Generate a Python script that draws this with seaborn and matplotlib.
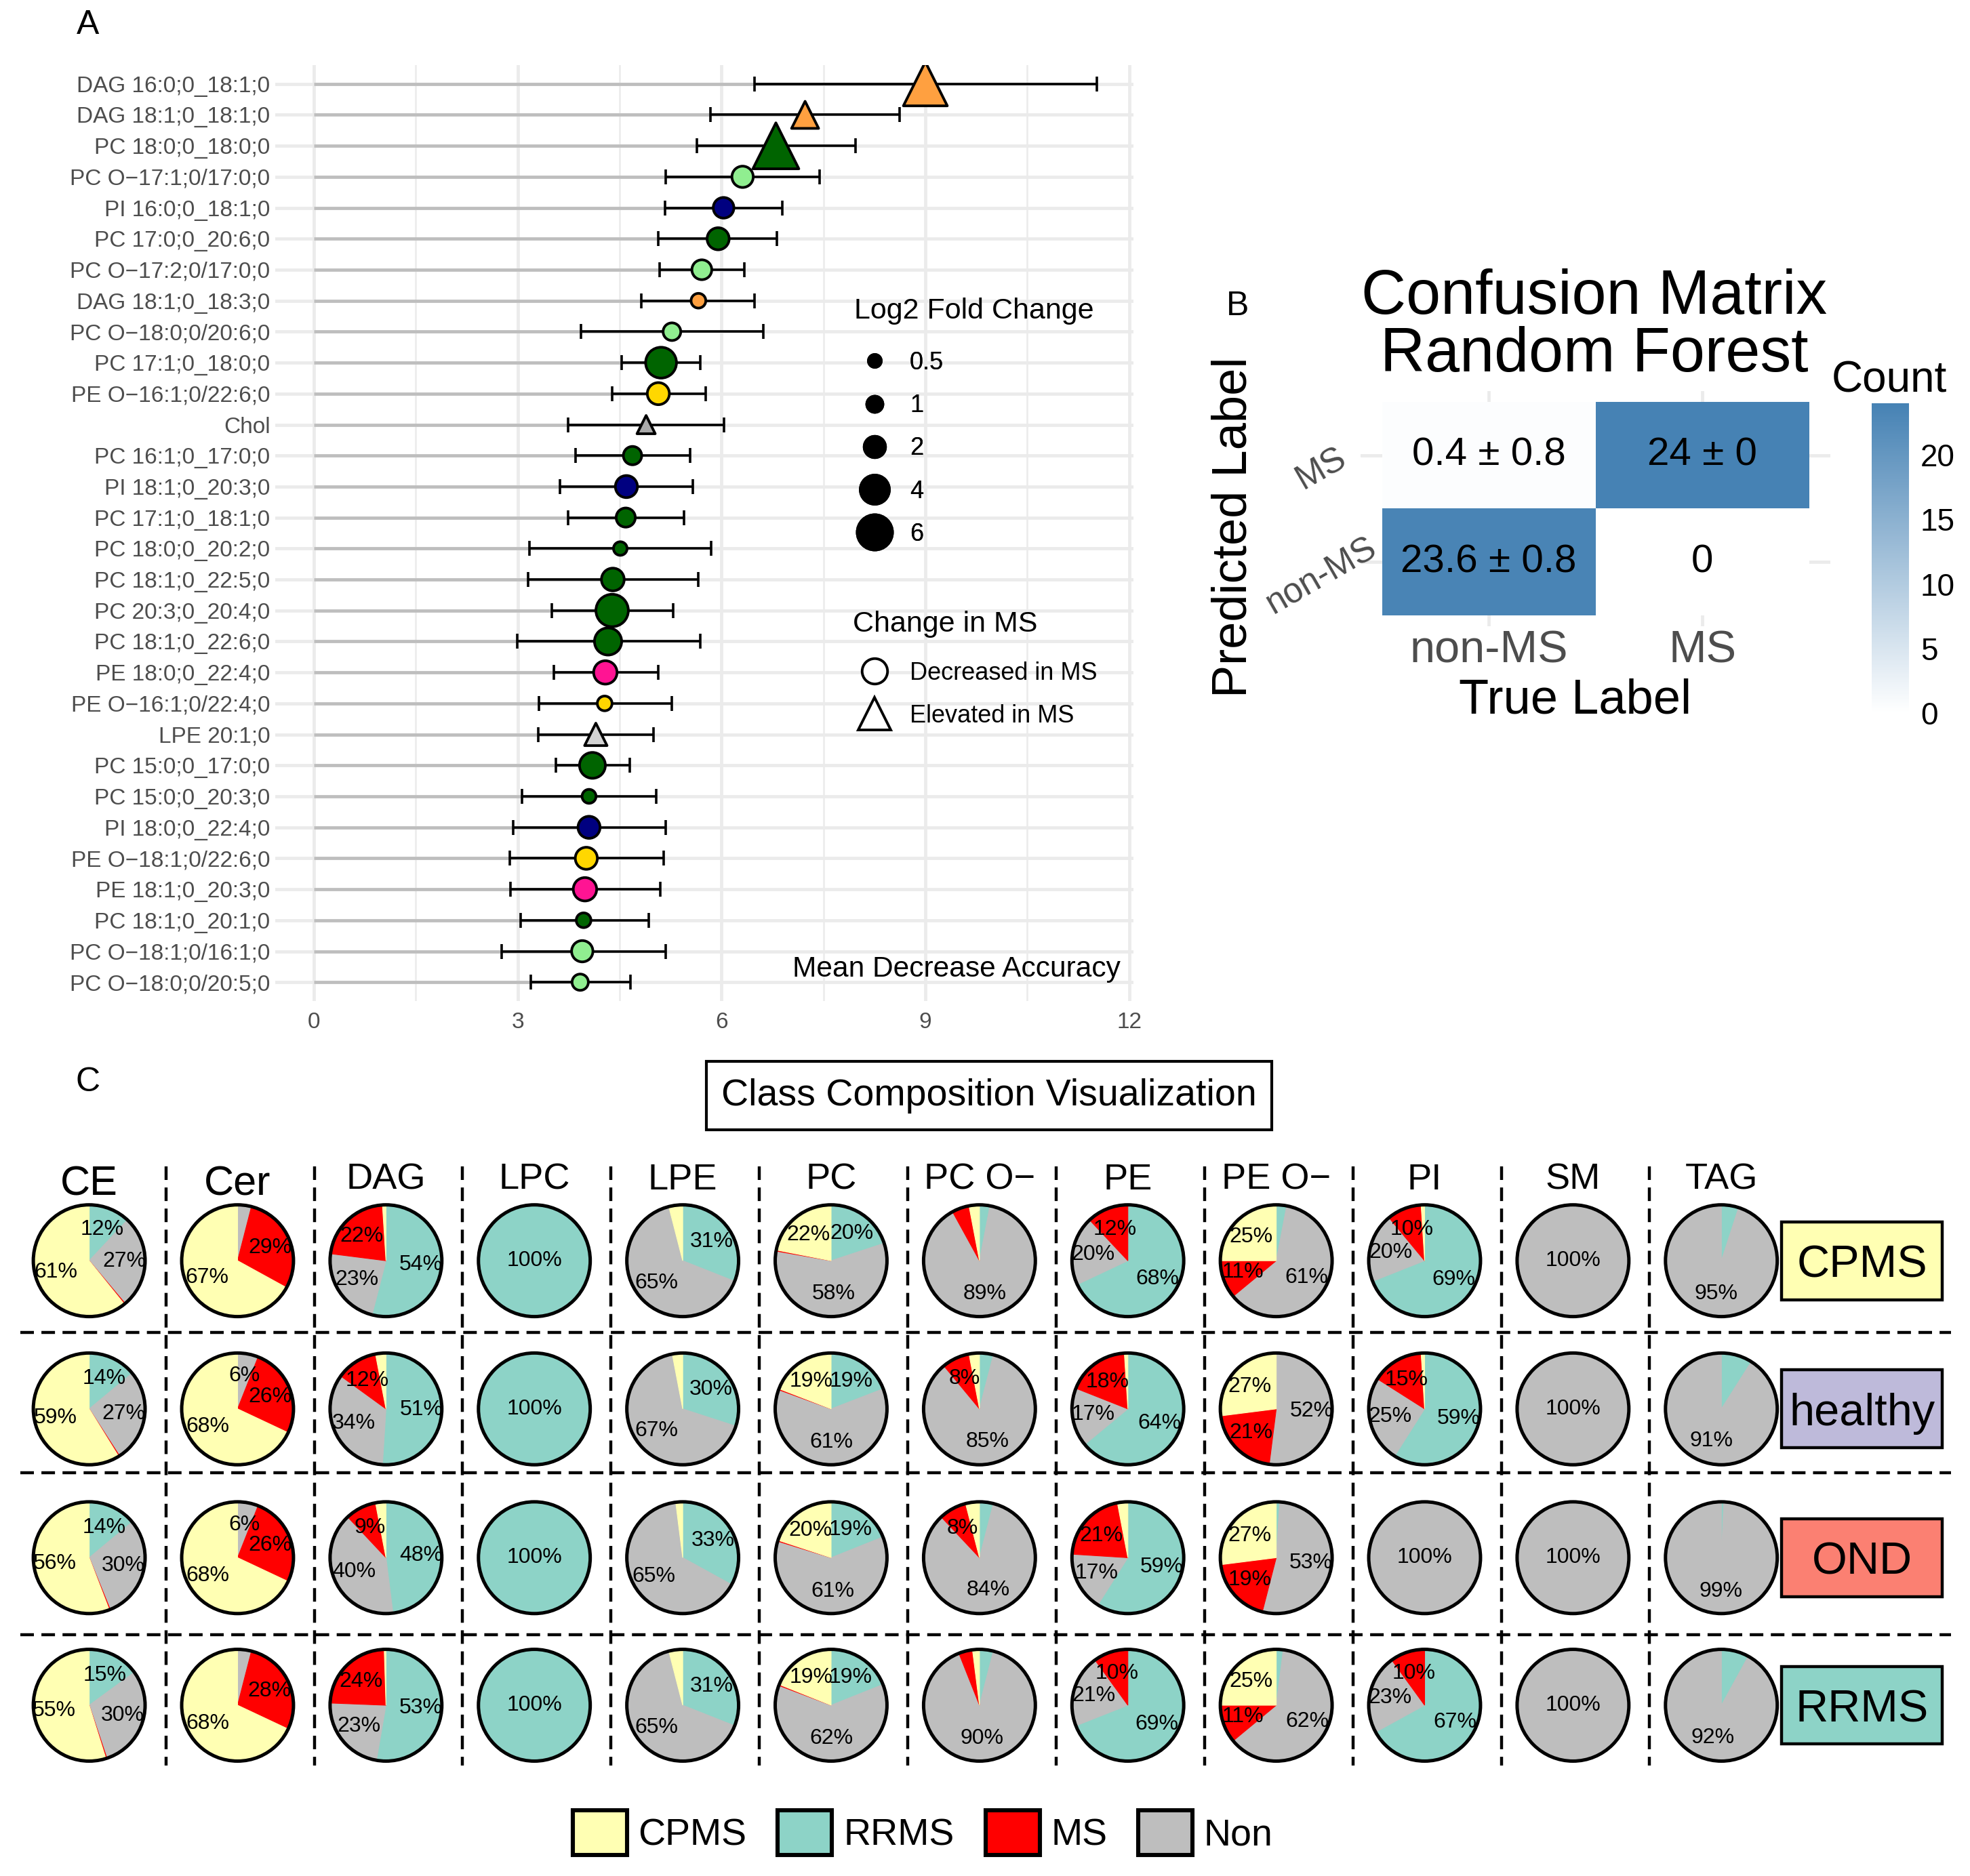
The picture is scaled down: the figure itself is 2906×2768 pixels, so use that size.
import numpy as np
import pandas as pd
import matplotlib
matplotlib.use('Agg')
import matplotlib.pyplot as plt
import matplotlib.transforms as mtransforms
import seaborn as sns
from matplotlib.lines import Line2D
from matplotlib.patches import Patch, Rectangle, Circle
from matplotlib.colors import LinearSegmentedColormap

sns.set_theme(style='white')
plt.rcParams['font.family'] = ['Liberation Sans', 'DejaVu Sans']
plt.rcParams.update({'text.color': 'black', 'axes.labelcolor': 'black',
                     'xtick.color': 'black', 'ytick.color': 'black'})

# ---------------- data: panel A (random forest importance) ----------------
lipids = ['DAG 16:0;0_18:1;0', 'DAG 18:1;0_18:1;0', 'PC 18:0;0_18:0;0',
          'PC O\u221217:1;0/17:0;0', 'PI 16:0;0_18:1;0', 'PC 17:0;0_20:6;0',
          'PC O\u221217:2;0/17:0;0', 'DAG 18:1;0_18:3;0', 'PC O\u221218:0;0/20:6;0',
          'PC 17:1;0_18:0;0', 'PE O\u221216:1;0/22:6;0', 'Chol',
          'PC 16:1;0_17:0;0', 'PI 18:1;0_20:3;0', 'PC 17:1;0_18:1;0',
          'PC 18:0;0_20:2;0', 'PC 18:1;0_22:5;0', 'PC 20:3;0_20:4;0',
          'PC 18:1;0_22:6;0', 'PE 18:0;0_22:4;0', 'PE O\u221216:1;0/22:4;0',
          'LPE 20:1;0', 'PC 15:0;0_17:0;0', 'PC 15:0;0_20:3;0',
          'PI 18:0;0_22:4;0', 'PE O\u221218:1;0/22:6;0', 'PE 18:1;0_20:3;0',
          'PC 18:1;0_20:1;0', 'PC O\u221218:1;0/16:1;0', 'PC O\u221218:0;0/20:5;0']
mda = [9.00, 7.23, 6.80, 6.31, 6.03, 5.95, 5.71, 5.66, 5.27, 5.11, 5.07, 4.89,
       4.69, 4.60, 4.59, 4.51, 4.40, 4.39, 4.33, 4.29, 4.28, 4.15, 4.10, 4.05,
       4.05, 4.01, 3.99, 3.97, 3.95, 3.92]
mda_lo = [6.49, 5.84, 5.64, 5.18, 5.17, 5.07, 5.09, 4.82, 3.93, 4.53, 4.39, 3.74,
          3.85, 3.62, 3.74, 3.17, 3.15, 3.50, 2.99, 3.53, 3.31, 3.30, 3.56, 3.06,
          2.93, 2.88, 2.89, 3.04, 2.76, 3.19]
mda_hi = [11.52, 8.62, 7.97, 7.44, 6.89, 6.81, 6.34, 6.49, 6.62, 5.69, 5.77, 6.04,
          5.54, 5.58, 5.45, 5.85, 5.66, 5.29, 5.69, 5.07, 5.27, 5.00, 4.65, 5.04,
          5.18, 5.15, 5.10, 4.93, 5.18, 4.66]
log2fc = [4.9, 1.6, 5.4, 1.84, 1.7, 2.0, 1.54, 0.66, 1.13, 4.3, 2.0, 0.1,
          1.25, 2.0, 1.4, 0.45, 2.15, 4.8, 3.25, 2.3, 0.66, 0.97, 2.9, 0.55,
          2.0, 2.0, 2.3, 0.66, 1.84, 0.9]
lipid_class = ['DAG', 'DAG', 'PC', 'PC O-', 'PI', 'PC', 'PC O-', 'DAG', 'PC O-',
               'PC', 'PE O-', 'Chol', 'PC', 'PI', 'PC', 'PC', 'PC', 'PC', 'PC',
               'PE', 'PE O-', 'LPE', 'PC', 'PC', 'PI', 'PE O-', 'PE', 'PC',
               'PC O-', 'PC O-']
change = ['Elevated', 'Elevated', 'Elevated'] + ['Decreased'] * 8 + ['Elevated'] + \
         ['Decreased'] * 9 + ['Elevated'] + ['Decreased'] * 8
class_colors = {'DAG': '#FFA040', 'PC': '#006400', 'PC O-': '#90EE90',
                'PI': '#000080', 'PE': '#FF1493', 'PE O-': '#FFD700',
                'Chol': '#A9A9A9', 'LPE': '#D3D3D3'}
size_levels = [0.5, 1, 2, 4, 6]

# ---------------- data: panel B (confusion matrix) ----------------
pred_labels = ['MS', 'non-MS']
true_labels = ['non-MS', 'MS']
cm_mean = [[0.4, 24.0], [23.6, 0.0]]
cm_text = [['0.4 \u00b1 0.8', '24 \u00b1 0'], ['23.6 \u00b1 0.8', '0']]

# ---------------- data: panel C (class composition) ----------------
classes = ['CE', 'Cer', 'DAG', 'LPC', 'LPE', 'PC', 'PC O\u2212', 'PE', 'PE O\u2212',
           'PI', 'SM', 'TAG']
label_min = [5, 5, 5, 5, 5, 5, 5, 5, 5, 5, 5, 10]   # smallest % that gets a label
segments = ['RRMS', 'Non', 'MS', 'CPMS']     # clockwise from 12 o'clock
groups = ['CPMS', 'healthy', 'OND', 'RRMS']
# each entry: [RRMS, Non, MS, CPMS] in %
comp_cpms = [[12, 27, 0.3, 61], [0, 4, 29, 67], [54, 23, 22, 1], [100, 0, 0, 0],
             [31, 65, 0, 4], [20, 58, 0.3, 22], [3, 89, 5, 3], [68, 20, 12, 0],
             [3, 61, 11, 25], [69, 20, 10, 1], [0, 100, 0, 0], [5, 95, 0, 0]]
comp_healthy = [[14, 27, 0.3, 59], [0, 6, 26, 68], [51, 34, 12, 3], [100, 0, 0, 0],
                [30, 67, 0, 3], [19, 61, 0.3, 19], [4, 85, 8, 3], [64, 17, 18, 1],
                [0, 52, 21, 27], [59, 25, 15, 1], [0, 100, 0, 0], [9, 91, 0, 0]]
comp_ond = [[14, 30, 0.3, 56], [0, 6, 26, 68], [48, 40, 9, 3], [100, 0, 0, 0],
            [33, 65, 0, 2], [19, 61, 0.3, 20], [4, 84, 8, 4], [59, 17, 21, 3],
            [1, 53, 19, 27], [0, 100, 0, 0], [0, 100, 0, 0], [0.7, 99, 0, 0]]
comp_rrms = [[15, 30, 0.3, 55], [0, 4, 28, 68], [53, 23, 24, 0.5], [100, 0, 0, 0],
             [31, 65, 0, 4], [19, 62, 0.3, 19], [4, 90, 4, 2], [69, 21, 10, 0],
             [2, 62, 11, 25], [67, 23, 10, 0], [0, 100, 0, 0], [8, 92, 0, 0]]
compositions = [comp_cpms, comp_healthy, comp_ond, comp_rrms]
seg_colors = {'RRMS': '#8DD3C7', 'Non': '#BEBEBE', 'MS': '#FF0000', 'CPMS': '#FFFFB3'}
group_colors = {'CPMS': '#FFFFB3', 'healthy': '#BEBADA', 'OND': '#FB8072',
                'RRMS': '#8DD3C7'}

# ---------------- figure ----------------
fig = plt.figure(figsize=(14.53, 13.84), dpi=200)
W, H = 1568, 1494
PX = 1.853 / 200   # one layout pixel in inches


def rect(x0, y0, x1, y1):
    return [x0 / W, 1 - y1 / H, (x1 - x0) / W, (y1 - y0) / H]


bg = fig.add_axes([0, 0, 1, 1])
bg.set_xlim(0, W)
bg.set_ylim(H, 0)
bg.axis('off')

bg.text(70, 20, 'A', fontsize=18, ha='center', va='center')
bg.text(985, 244, 'B', fontsize=18, ha='center', va='center')
bg.text(70, 862, 'C', fontsize=18, ha='center', va='center')

# ---- A: lollipop with error bars ----
df_a = pd.DataFrame({'lipid': lipids, 'y': np.arange(len(lipids)), 'mda': mda,
                     'lo': mda_lo, 'hi': mda_hi, 'fc': log2fc,
                     'cls': lipid_class, 'dir': change})
ax = fig.add_axes(rect(219, 52, 902, 797))
ax.set_facecolor('none')
ax.set_xlim(-0.57, 12.06)
ax.set_ylim(len(lipids) - 0.4, -0.6)
ax.set_xticks([0, 3, 6, 9, 12])
ax.set_xticks([1.5, 4.5, 7.5, 10.5], minor=True)
ax.set_yticks(df_a['y'])
ax.set_yticklabels(lipids)
ax.grid(which='major', color='#EBEBEB', lw=1.7)
ax.grid(which='minor', axis='x', color='#EBEBEB', lw=0.9)
ax.set_axisbelow(True)
for s in ax.spines.values():
    s.set_visible(False)
ax.tick_params(axis='both', which='both', length=0, labelsize=12, labelcolor='#4D4D4D')
ax.tick_params(axis='y', pad=2.7)
ax.tick_params(axis='x', pad=6)

ax.hlines(df_a['y'], 0, df_a['mda'], color='#BEBEBE', lw=1.7, zorder=1)
ax.errorbar(df_a['mda'], df_a['y'],
            xerr=[df_a['mda'] - df_a['lo'], df_a['hi'] - df_a['mda']],
            fmt='none', ecolor='black', elinewidth=1.3, capsize=4, capthick=1.3,
            zorder=2)
sns.scatterplot(data=df_a[df_a['dir'] == 'Decreased'], x='mda', y='y', hue='cls',
                palette=class_colors, size='fc', sizes=(52, 365), size_norm=(0.5, 6),
                marker='o', edgecolor='black', linewidth=1.4, legend=False,
                ax=ax, zorder=3)
sns.scatterplot(data=df_a[df_a['dir'] == 'Elevated'], x='mda', y='y', hue='cls',
                palette=class_colors, size='fc', sizes=(94, 657), size_norm=(0.5, 6),
                marker='^', edgecolor='black', linewidth=1.4, legend=False,
                ax=ax, zorder=3)
ax.set_xlabel('')
ax.set_ylabel('')
ax.text(0.985, 0.034, 'Mean Decrease Accuracy', transform=ax.transAxes,
        ha='right', va='center', fontsize=15.3)

fig.text(680 / W, 1 - 248 / H, 'Log2 Fold Change', fontsize=15.5, va='center')
size_handles = [Line2D([], [], ls='', marker='o', color='black',
                       markersize=np.sqrt(52 + (v - 0.5) / 5.5 * 313))
                for v in size_levels]
leg1 = fig.legend(size_handles, [str(v) for v in size_levels],
                  loc='upper left', bbox_to_anchor=(684.3 / W, 1 - 279.6 / H),
                  frameon=False, fontsize=13, handlelength=1.2, handletextpad=0.84,
                  labelspacing=0.78, borderpad=0, borderaxespad=0)
fig.text(679 / W, 1 - 497 / H, 'Change in MS', fontsize=15.5, va='center')
shape_handles = [Line2D([], [], ls='', marker='o', markerfacecolor='white',
                        markeredgecolor='black', markeredgewidth=1.4, markersize=13.5),
                 Line2D([], [], ls='', marker='^', markerfacecolor='white',
                        markeredgecolor='black', markeredgewidth=1.4, markersize=17)]
leg2 = fig.legend(shape_handles, ['Decreased in MS', 'Elevated in MS'],
                  loc='upper left', bbox_to_anchor=(684.3 / W, 1 - 526.6 / H),
                  frameon=False, fontsize=13, handlelength=1.2, handletextpad=0.84,
                  labelspacing=0.78, borderpad=0, borderaxespad=0)
fig.add_artist(leg1)

# ---- B: confusion matrix ----
ax_b = fig.add_axes(rect(1083, 311.5, 1457, 498.5))
cax = fig.add_axes(rect(1489.5, 321, 1519.5, 568))
cm_df = pd.DataFrame(cm_mean, index=pred_labels, columns=true_labels)
cm_cmap = LinearSegmentedColormap.from_list('white_steel', ['#FFFFFF', '#4682B4'])
sns.heatmap(cm_df, annot=np.array(cm_text), fmt='', cmap=cm_cmap, vmin=0, vmax=24,
            ax=ax_b, cbar_ax=cax, linewidths=0,
            annot_kws={'fontsize': 21, 'color': 'black'})
ax_b.set_xlim(-0.1, 2.1)
ax_b.set_ylim(2.1, -0.1)
ax_b.grid(True, color='#EBEBEB', lw=1.7)
ax_b.set_axisbelow(True)
ax_b.set_xlabel('')
ax_b.set_ylabel('')
ax_b.set_xticklabels(true_labels, fontsize=24, color='#4D4D4D')
ax_b.set_yticklabels(pred_labels, fontsize=18.5, color='#4D4D4D', rotation=30,
                     ha='center', va='center', rotation_mode='anchor')
ax_b.tick_params(axis='both', length=0)
ax_b.tick_params(axis='x', pad=2)
ax_b.tick_params(axis='y', pad=20.7)
shift = mtransforms.ScaledTranslation(0, -11 * PX, fig.dpi_scale_trans)
for lab in ax_b.get_yticklabels():
    lab.set_transform(lab.get_transform() + shift)

cbar = ax_b.collections[0].colorbar
cbar.outline.set_visible(False)
cbar.set_ticks([0, 5, 10, 15, 20])
cax.tick_params(labelsize=16.5, color='white', direction='in', length=4, width=1.2,
                left=True, right=True, pad=6)

bg.text(1269, 237, 'Confusion Matrix', fontsize=33, ha='center', va='center')
bg.text(1269, 283, 'Random Forest', fontsize=33, ha='center', va='center')
bg.text(1254, 558, 'True Label', fontsize=26, ha='center', va='center')
bg.text(982, 420, 'Predicted Label', fontsize=26, ha='center', va='center', rotation=90)
bg.text(1503.5, 303, 'Count', fontsize=23, ha='center', va='center')

# ---- C: class composition pies ----
bg.add_patch(Rectangle((562, 845), 450, 55, fill=False, ec='black', lw=1.5))
bg.text(787, 872.5, 'Class Composition Visualization', fontsize=20,
        ha='center', va='center')

col_x = [71 + 118.1 * j for j in range(len(classes))]
row_y = [1004, 1122, 1240.5, 1358]
for j, name in enumerate(classes):
    big = name in ('CE', 'Cer')
    bg.text(col_x[j], 952 if big else 947, name, fontsize=22 if big else 19.5,
            ha='center', va='baseline')
dash = (0, (4.5, 2.5))
bg.vlines([x + 61 for x in col_x[:-1]], 929, 1406, colors='black',
          linestyles=dash, lw=1.6)
bg.hlines([1061, 1173, 1302], 16, 1553, colors='black', linestyles=dash, lw=1.6)

for i, grp in enumerate(groups):
    bg.add_patch(Rectangle((1418, row_y[i] - 31), 128, 62, fc=group_colors[grp],
                           ec='black', lw=1.6))
    bg.text(1482, row_y[i], grp, fontsize=24, ha='center', va='center_baseline')
    for j in range(len(classes)):
        vals = compositions[i][j]
        cx, cy = col_x[j], row_y[i]
        pax = fig.add_axes(rect(cx - 50, cy - 50, cx + 50, cy + 50))
        wedges, _ = pax.pie(vals, colors=[seg_colors[s] for s in segments],
                            startangle=90, counterclock=False)
        for w, v in zip(wedges, vals):
            if v <= 0:
                w.set_visible(False)
                continue
            w.set_edgecolor(w.get_facecolor())
            w.set_linewidth(0.4)
            if v >= 100:
                pax.text(0, 0, '100%', fontsize=11.5, ha='center', va='center')
            elif v > label_min[j]:
                ang = np.deg2rad((w.theta1 + w.theta2) / 2)
                pax.text(0.63 * np.cos(ang), 0.6 * np.sin(ang), f'{v:.0f}%',
                         fontsize=11.5, ha='center', va='center')
        pax.add_patch(Circle((0, 0), 1, fill=False, ec='black', lw=1.8))
        lim = 50 / 44.5
        pax.set_xlim(-lim, lim)
        pax.set_ylim(-lim, lim)
        pax.set_aspect('equal')
        pax.axis('off')

fig.legend([Patch(fc=seg_colors[s], ec='black', lw=2.2) for s in ['CPMS', 'RRMS', 'MS', 'Non']],
           ['CPMS', 'RRMS', 'MS', 'Non'], loc='center',
           bbox_to_anchor=(734.5 / W, 1 - 1459.5 / H), ncol=4, frameon=False,
           fontsize=20, handlelength=1.44, handleheight=1.44, handletextpad=0.3,
           columnspacing=0.83)

fig.savefig('out.png', dpi=200)
